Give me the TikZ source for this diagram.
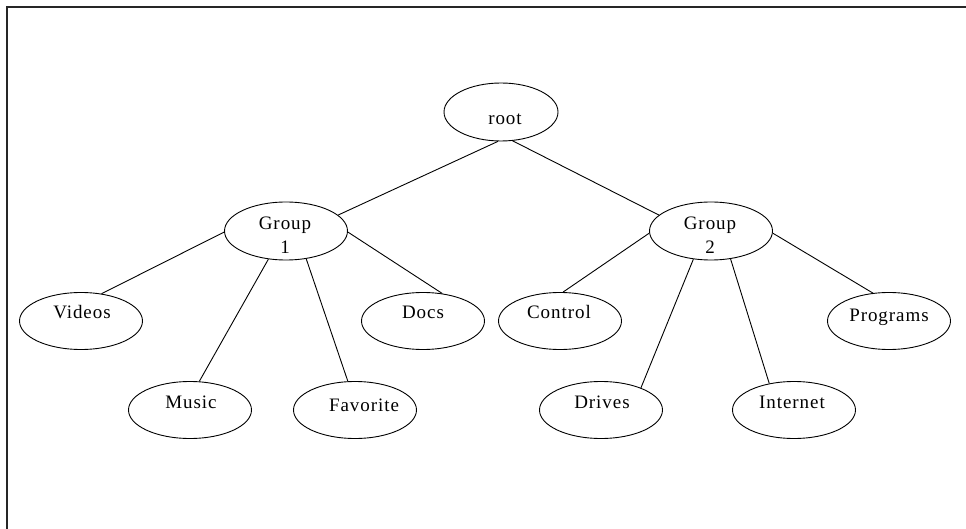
\documentclass[tikz,border=0pt]{standalone}
\usepackage{fontspec}
\setmainfont{Liberation Serif}[LetterSpace=5]
\usetikzlibrary{shapes.geometric}
\begin{document}
\begin{tikzpicture}[x=1pt,y=-1pt,
  box/.style={draw, ellipse, line width=0.9pt, inner sep=0pt, minimum width=123pt, minimum height=57pt},
  txt/.style={anchor=base, inner sep=0pt, font=\fontsize{19}{24}\selectfont, align=center},
  link/.style={line width=0.9pt}]
\useasboundingbox (0,0) rectangle (966,529);
\draw[line width=1.8pt, black!85] (7,529) -- (7,7) -- (966,7);

\node[box, minimum width=114pt, minimum height=58pt] (root) at (501,112) {};
\node[box, minimum height=58pt] (g1) at (286,231) {};
\node[box, minimum height=58pt] (g2) at (711,231) {};
\node[box] (videos) at (81,321) {};
\node[box] (docs) at (423,321) {};
\node[box] (control) at (560,321) {};
\node[box] (programs) at (889,321) {};
\node[box] (music) at (190,410) {};
\node[box] (fav) at (355,410) {};
\node[box] (drives) at (601,410) {};
\node[box] (internet) at (794,410) {};

\node[txt] (troot) at (505,125) {root};
\node[txt, anchor=center] (tg1) at (285,235) {Group\\1};
\node[txt, anchor=center] (tg2) at (710,235) {Group\\2};
\node[txt] (tvideos) at (82,318) {Videos};
\node[txt] (tdocs) at (423,318) {Docs};
\node[txt] (tcontrol) at (559,318) {Control};
\node[txt] (tprograms) at (889,321) {Programs};
\node[txt] (tmusic) at (191,408) {Music};
\node[txt] (tfav) at (364,411) {Favorite};
\node[txt] (tdrives) at (602,408) {Drives};
\node[txt] (tinternet) at (792,408) {Internet};

\draw[link] (root.264) -- (g1.17);
\draw[link] (root.292) -- (g2.163);
\draw[link] (g1.181) -- (videos.53);
\draw[link] (g1.238) -- (music.72);
\draw[link] (g1.306) -- (fav.104);
\draw[link] (g1.359) -- (docs.55);
\draw[link] (g2.182) -- (control.84);
\draw[link] (g2.238) -- (drives.29);
\draw[link] (g2.305) -- (internet.133);
\draw[link] (g2.358) -- (programs.120);
\end{tikzpicture}
\end{document}
